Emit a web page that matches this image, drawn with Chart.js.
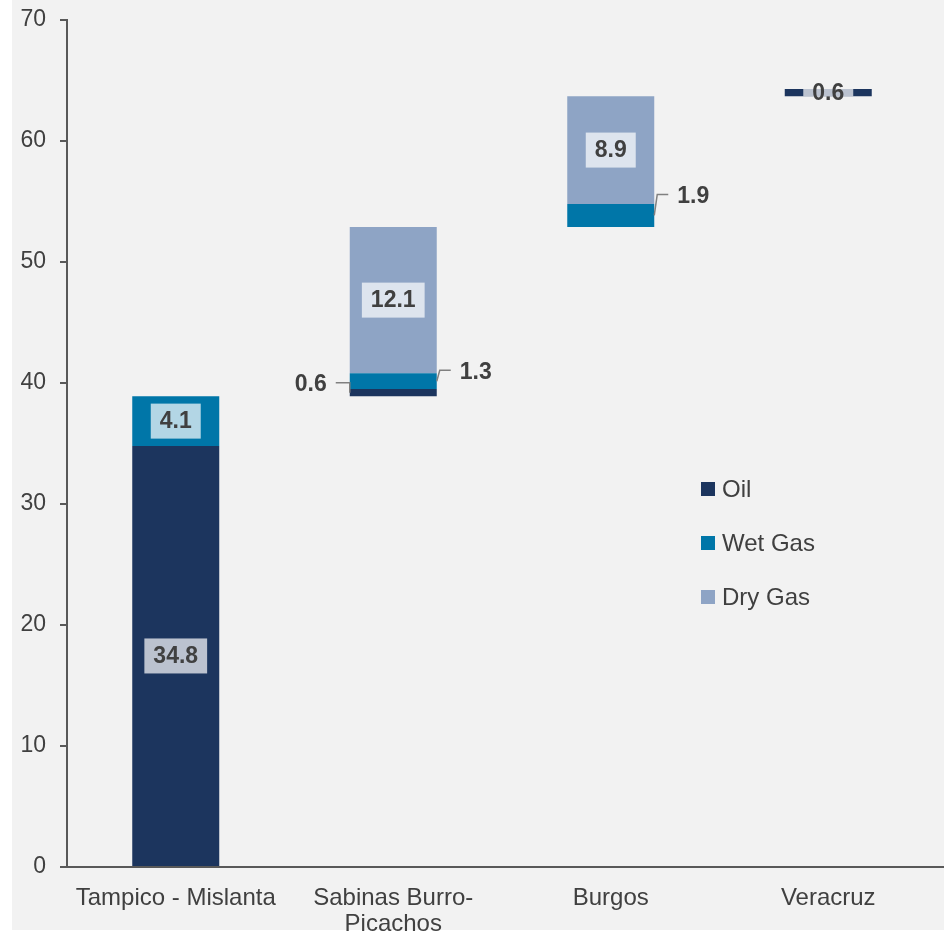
<!DOCTYPE html>
<html>
<head>
<meta charset="utf-8">
<script src="https://cdn.jsdelivr.net/npm/chart.js@4/dist/chart.umd.min.js"></script>
<style>
    body { margin: 0; background: #ffffff; }
    #bg { position: absolute; left: 12px; top: 0; width: 932px; height: 930px; background: #f2f2f2; }
    #basinChart { position: absolute; left: 12px; top: 0; }
</style>
</head>
<body>
<div id="bg"></div>
<canvas id="basinChart" width="932" height="937"></canvas>
<script>
const categories = ['Tampico - Mislanta', ['Sabinas Burro-', 'Picachos'], 'Burgos', 'Veracruz'];
const oil = [34.8, 0.6, 0, 0.6];
const wetGas = [4.1, 1.3, 1.9, 0];
const dryGas = [0, 12.1, 8.9, 0];
const yTicks = [0, 10, 20, 30, 40, 50, 60, 70];

// labels drawn outside the bar with a small leader line
const outsideLabels = [
    { ds: 0, idx: 1, side: -1, rise: 10 },
    { ds: 1, idx: 1, side: 1, rise: 11 },
    { ds: 1, idx: 2, side: 1, rise: 21 }
];

const series = [oil, wetGas, dryGas];
const ranges = [[], [], []];
let base = 0;
for (let i = 0; i < categories.length; i++) {
    for (let s = 0; s < series.length; s++) {
        const v = series[s][i];
        ranges[s].push(v ? [base, +(base + v).toFixed(2)] : null);
        base = +(base + v).toFixed(2);
    }
}

const textColor = '#404040';

const labelPlugin = {
    id: 'segLabels',
    afterDatasetsDraw(chart) {
        const ctx = chart.ctx;
        ctx.save();
        ctx.font = 'bold 23px "Liberation Sans", Arial, sans-serif';
        ctx.textBaseline = 'middle';
        chart.data.datasets.forEach((ds, di) => {
            const meta = chart.getDatasetMeta(di);
            meta.data.forEach((bar, j) => {
                const v = series[di][j];
                if (!v) return;
                const p = bar.getProps(['x', 'y', 'base', 'width'], true);
                const midY = (p.y + p.base) / 2;
                const txt = v.toFixed(1);
                const tw = ctx.measureText(txt).width;
                const out = outsideLabels.find(o => o.ds === di && o.idx === j);
                if (out) {
                    const edge = p.x + out.side * p.width / 2;
                    const ly = midY - out.rise;
                    ctx.strokeStyle = '#808080';
                    ctx.lineWidth = 1.5;
                    ctx.beginPath();
                    ctx.moveTo(edge, midY);
                    ctx.lineTo(edge + out.side * (out.side > 0 ? 3 : 0), ly);
                    ctx.lineTo(edge + out.side * 14, ly);
                    ctx.stroke();
                    ctx.fillStyle = textColor;
                    ctx.textAlign = out.side > 0 ? 'left' : 'right';
                    ctx.fillText(txt, edge + out.side * 23, ly + 2);
                } else {
                    const bw = tw + 18, bh = 35;
                    // box only shows where it sits on the bar
                    const top = Math.max(midY - bh / 2, Math.min(p.y, p.base));
                    const bot = Math.min(midY + bh / 2, Math.max(p.y, p.base));
                    ctx.fillStyle = 'rgba(255,255,255,0.7)';
                    ctx.fillRect(p.x - bw / 2, top, bw, bot - top);
                    ctx.fillStyle = textColor;
                    ctx.textAlign = 'center';
                    ctx.fillText(txt, p.x, midY + 1);
                }
            });
        });
        ctx.restore();
    },
    afterDraw(chart) {
        const ctx = chart.ctx;
        const area = chart.chartArea;
        ctx.save();
        // axis line runs on to the right edge
        ctx.strokeStyle = '#595959';
        ctx.lineWidth = 2;
        ctx.beginPath();
        ctx.moveTo(area.right, area.bottom);
        ctx.lineTo(chart.width, area.bottom);
        ctx.stroke();
        // legend
        ctx.font = '24px "Liberation Sans", Arial, sans-serif';
        ctx.textBaseline = 'middle';
        ctx.textAlign = 'left';
        chart.data.datasets.forEach((ds, i) => {
            const cy = 489 + i * 54;
            ctx.fillStyle = ds.backgroundColor;
            ctx.fillRect(689, cy - 7, 14, 14);
            ctx.fillStyle = textColor;
            ctx.fillText(ds.label, 710, cy + 1);
        });
        ctx.restore();
    }
};

new Chart(document.getElementById('basinChart'), {
    type: 'bar',
    data: {
        labels: categories,
        datasets: [
            { label: 'Oil', data: ranges[0], backgroundColor: '#1c355e' },
            { label: 'Wet Gas', data: ranges[1], backgroundColor: '#0076a8' },
            { label: 'Dry Gas', data: ranges[2], backgroundColor: '#8ea4c5' }
        ]
    },
    options: {
        responsive: false,
        animation: false,
        datasets: { bar: { grouped: false, categoryPercentage: 1, barPercentage: 0.4 } },
        layout: { padding: { top: 20, right: 7, left: 0, bottom: 0 } },
        plugins: {
            legend: { display: false },
            tooltip: { enabled: false }
        },
        scales: {
            x: {
                grid: { display: false },
                border: { display: true, color: '#595959', width: 2 },
                ticks: {
                    color: textColor,
                    padding: 10,
                    font: { family: '"Liberation Sans", Arial, sans-serif', size: 24, lineHeight: 1.08 },
                    maxRotation: 0
                },
                afterFit(scale) { scale.height = 70; }
            },
            y: {
                min: 0,
                max: 70,
                afterBuildTicks(scale) { scale.ticks = yTicks.map(v => ({ value: v })); },
                grid: { drawOnChartArea: false, drawTicks: true, tickLength: 7, color: '#595959', lineWidth: 2 },
                border: { display: true, color: '#595959', width: 2 },
                ticks: {
                    color: textColor,
                    padding: 14,
                    font: { family: '"Liberation Sans", Arial, sans-serif', size: 23 }
                },
                afterFit(scale) {
                    scale.width = 55;
                    scale.paddingTop = 0;
                    scale.paddingBottom = 0;
                }
            }
        }
    },
    plugins: [labelPlugin]
});
</script>
</body>
</html>
